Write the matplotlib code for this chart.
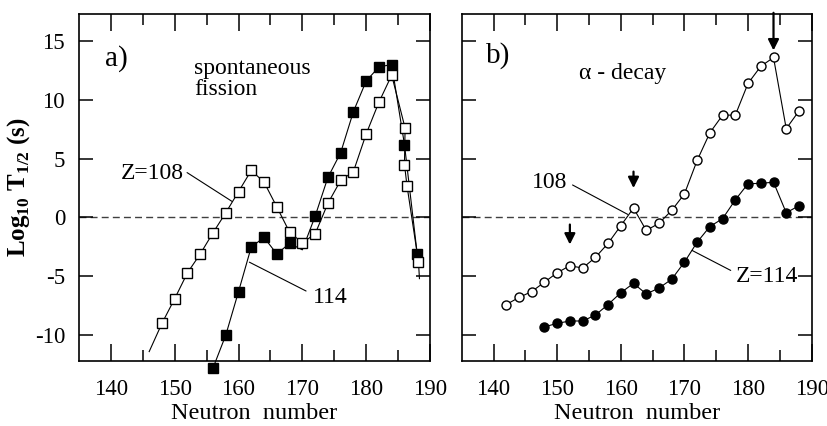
import matplotlib
matplotlib.use('Agg')
from matplotlib import pyplot as plt

plt.rcParams['font.family'] = ['Liberation Serif', 'DejaVu Serif']
plt.rcParams['mathtext.fontset'] = 'custom'
plt.rcParams['mathtext.rm'] = 'Liberation Serif'
plt.rcParams['mathtext.bf'] = 'Liberation Serif:bold'
plt.rcParams['axes.unicode_minus'] = False

# a) spontaneous fission, Z=108 (open squares) - first and last entries are line ends only
sf_n_108 = [146, 148, 150, 152, 154, 156, 158, 160, 162, 164, 166, 168, 170, 172, 174, 176,
            178, 180, 182, 184, 186.1, 186.0, 186.4, 188.2, 188.35]
sf_t_108 = [-11.4, -9.0, -6.9, -4.7, -3.1, -1.3, 0.4, 2.2, 4.0, 3.0, 0.9, -1.25, -2.15, -1.4, 1.2, 3.15,
            3.9, 7.1, 9.8, 12.1, 7.6, 4.5, 2.7, -3.8, -5.2]
# a) spontaneous fission, Z=114 (filled squares) - N=170 has no marker
sf_n_114 = [156, 158, 160, 162, 164, 166, 168, 170, 172, 174, 176, 178, 180, 182, 184, 186, 188]
sf_t_114 = [-12.8, -10.0, -6.3, -2.5, -1.7, -3.1, -2.2, -2.75, 0.1, 3.4, 5.5, 9.0, 11.6, 12.8, 13.0, 6.2, -3.1]

# b) alpha decay
al_n_108 = list(range(142, 190, 2))
al_t_108 = [-7.4, -6.8, -6.3, -5.5, -4.7, -4.1, -4.3, -3.4, -2.2, -0.7, 0.8, -1.1, -0.5, 0.6,
            2.0, 4.85, 7.2, 8.7, 8.7, 11.4, 12.85, 13.6, 7.55, 9.05]
al_n_114 = list(range(148, 190, 2))
al_t_114 = [-9.3, -9.0, -8.8, -8.8, -8.3, -7.4, -6.4, -5.6, -6.5, -6.0, -5.25, -3.8, -2.1, -0.77,
            -0.1, 1.5, 2.87, 2.9, 3.0, 0.4, 1.0]

# arrows in panel b): (N, start, end)
arrow_n = [152, 162, 184]
arrow_from = [-0.6, 3.9, 17.4]
arrow_to = [-2.3, 2.5, 14.2]

fig = plt.figure(figsize=(8.28, 4.26), dpi=100)
ax1 = fig.add_axes([0.0954, 0.1526, 0.4239, 0.8146])
ax2 = fig.add_axes([0.5576, 0.1526, 0.4227, 0.8146])

def style(ax, ylabels=True):
    ax.set_xlim(135, 190)
    ax.set_ylim(-12.2, 17.3)
    ax.set_xticks(range(140, 191, 10))
    ax.set_xticks(range(145, 190, 10), minor=True)
    ax.set_yticks(range(-10, 16, 5))
    ax.tick_params(which='both', direction='in', top=True, right=True, width=1.1, labelsize=16.5)
    ax.tick_params(axis='x', which='major', length=12, pad=13)
    ax.tick_params(axis='x', which='minor', length=8)
    ax.tick_params(axis='y', which='major', length=10, pad=10)
    if not ylabels:
        ax.tick_params(axis='y', labelleft=False)
    for s in ax.spines.values():
        s.set_linewidth(1.2)
    ax.axhline(0, color='0.25', lw=1, ls=(0, (5, 3)), zorder=1)
    # x label placed by its baseline so it sits at the very bottom like the original
    ax.text(0.5, -0.168, 'Neutron  number', fontsize=17.5, ha='center', va='baseline',
            transform=ax.transAxes)

style(ax1)
style(ax2, ylabels=False)

ms = 6.5
idx114 = [i for i in range(len(sf_n_114)) if sf_n_114[i] != 170]
ax1.plot(sf_n_114, sf_t_114, color='k', lw=0.8, marker='s', ms=ms, mfc='k', mec='k', mew=1,
         markevery=idx114, clip_on=False, zorder=3)
ax1.plot(sf_n_108, sf_t_108, color='k', lw=0.8, marker='s', ms=ms, mfc='white', mec='k', mew=1,
         markevery=list(range(1, len(sf_n_108) - 1)), zorder=4)

ax2.plot(al_n_108, al_t_108, color='k', lw=0.8, marker='o', ms=ms, mfc='white', mec='k', mew=1, zorder=4)
ax2.plot(al_n_114, al_t_114, color='k', lw=0.8, marker='o', ms=ms, mfc='k', mec='k', mew=1, zorder=3)

ax1.text(139.0, 13.5, 'a)', fontsize=21, ha='left', va='center')
ax1.text(153.0, 11.8, 'spontaneous\nfission', fontsize=17, ha='left', va='center', linespacing=1.0)
ax1.annotate('Z=108', xy=(159.0, 1.36), xytext=(151.5, 3.7), fontsize=17, ha='right', va='center',
             arrowprops=dict(arrowstyle='-', lw=0.8, color='k', relpos=(1.0, 0.65), shrinkA=0, shrinkB=0))
ax1.annotate('114', xy=(161.7, -3.8), xytext=(171.6, -6.8), fontsize=17, ha='left', va='center',
             arrowprops=dict(arrowstyle='-', lw=0.8, color='k', relpos=(0.0, 0.65), shrinkA=3, shrinkB=0))

ax2.text(138.8, 13.8, 'b)', fontsize=21, ha='left', va='center')
ax2.text(153.4, 12.2, 'α - decay', fontsize=17, ha='left', va='center')
ax2.annotate('108', xy=(161.1, 0.26), xytext=(151.6, 3.0), fontsize=17, ha='right', va='center',
             arrowprops=dict(arrowstyle='-', lw=0.8, color='k', relpos=(1.0, 0.5), shrinkA=2, shrinkB=0))
ax2.annotate('Z=114', xy=(171.2, -2.8), xytext=(178.1, -5.0), fontsize=17, ha='left', va='center',
             arrowprops=dict(arrowstyle='-', lw=0.8, color='k', relpos=(0.0, 0.65), shrinkA=2, shrinkB=0))
for n, a, b in zip(arrow_n, arrow_from, arrow_to):
    ax2.annotate('', xy=(n, b), xytext=(n, a), annotation_clip=False,
                 arrowprops=dict(arrowstyle='-|>', color='k', lw=1.6, mutation_scale=16,
                                 shrinkA=0, shrinkB=0))

fig.text(19 / 828, 0.56, r'Log$_{\mathbf{10}}$ T$_{\mathbf{1/2}}$ (s)', rotation=90, fontsize=18,
         fontweight='bold', ha='center', va='center')

fig.savefig('out.png', dpi=100)
